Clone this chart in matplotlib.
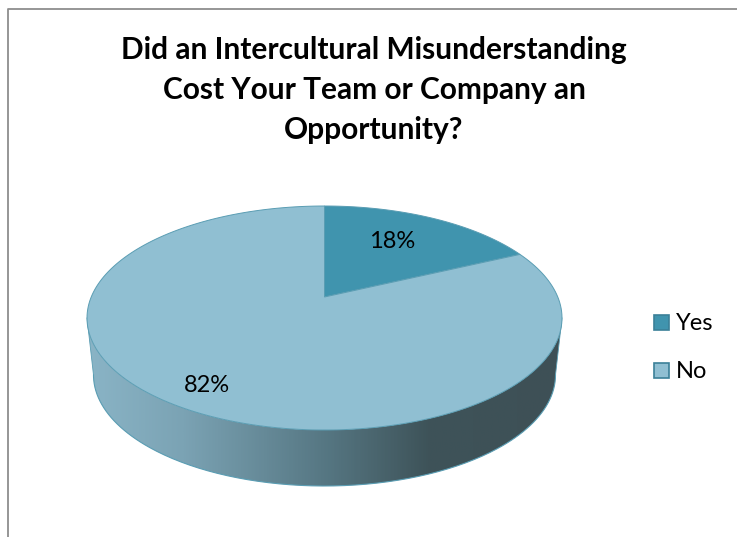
import matplotlib
matplotlib.use('Agg')
import matplotlib.pyplot as plt
import numpy as np
from matplotlib.colors import LinearSegmentedColormap
from matplotlib.patches import Polygon, Rectangle

title = 'Did an Intercultural Misunderstanding\nCost Your Team or Company an\nOpportunity?'
labels = ['Yes', 'No']
values = [18, 82]
colors = ['#4094AE', '#90BFD2']

plt.rcParams['font.family'] = ['Lato', 'DejaVu Sans']

W, H = 737, 537
fig = plt.figure(figsize=(W / 100, H / 100), dpi=100)
ax = fig.add_axes([0, 0, 1, 1])

# pie geometry in pixels
cx, cy, a, b = 324.5, 318, 237.5, 112
low_cx, low_cy, low_a, low_b = 324.5, 375, 231, 111
k = 0.1875  # slice tip sits above the middle of the ellipse
edge = '#5A9DB3'


def top_point(theta):
    # angle clockwise from 12 o'clock, perspective pulls the tip up
    x, y = np.sin(theta), np.cos(theta)
    d = 1 + k * y
    return cx + a * x * np.sqrt(1 - k ** 2) / d, cy - b * (y + k) / d


tip = (cx, cy - b * k)

# side of the pie
t = np.linspace(np.pi, 0, 200)
upper = np.column_stack([cx - a * np.cos(t), cy + b * np.sin(t)])
lower = np.column_stack([low_cx - low_a * np.cos(t), low_cy + low_b * np.sin(t)])
side = np.vstack([upper, lower[::-1]])
side_patch = Polygon(side, closed=True, facecolor='none', edgecolor='none')
ax.add_patch(side_patch)
cmap = LinearSegmentedColormap.from_list('side', [
    (0, '#8AB4C6'), (0.2, '#7BA3B4'), (0.5, '#567783'), (0.72, '#3E5359'), (1, '#3E5056')])
im = ax.imshow(np.linspace(0, 1, 400).reshape(1, -1), cmap=cmap, aspect='auto',
               extent=[cx - a, cx + a, low_cy + low_b, cy], zorder=1)
im.set_clip_path(side_patch)
ax.plot(lower[:, 0], lower[:, 1], color=edge, lw=0.8, zorder=2)
ax.plot([upper[0, 0], lower[0, 0]], [upper[0, 1], lower[0, 1]], color=edge, lw=0.6, zorder=2)
ax.plot([upper[-1, 0], lower[-1, 0]], [upper[-1, 1], lower[-1, 1]], color=edge, lw=0.6, zorder=2)

# top of the pie
start = 0
total = sum(values)
for value, color in zip(values, colors):
    end = start + value / total * 2 * np.pi
    th = np.linspace(start, end, 200)
    px, py = top_point(th)
    pts = np.column_stack([np.r_[tip[0], px], np.r_[tip[1], py]])
    ax.add_patch(Polygon(pts, closed=True, facecolor=color, edgecolor=edge, lw=0.7, zorder=3))
    start = end

ax.text(392, 242, '18%', fontsize=17, ha='center', va='center', color='black', zorder=4)
ax.text(207, 386, '82%', fontsize=17, ha='center', va='center', color='black', zorder=4)

ax.text(374, 90, title, fontsize=21.5, fontweight='bold', ha='center', va='center',
        linespacing=1.5, color='black')

# legend
for (label, color, y) in zip(labels, colors, [322, 370]):
    ax.add_patch(Rectangle((654.5, y - 7.5), 15, 15, facecolor=color, edgecolor='#3B8098', lw=1.2))
    ax.text(676, y + 1.5, label, fontsize=17, va='center', ha='left', color='black')

# chart frame
ax.plot([8.5, 8.5, W], [H, 8.5, 8.5], color='#8E8E8E', lw=1.3)

ax.set_xlim(0, W)
ax.set_ylim(H, 0)
ax.axis('off')
fig.savefig('out.png', dpi=100)
